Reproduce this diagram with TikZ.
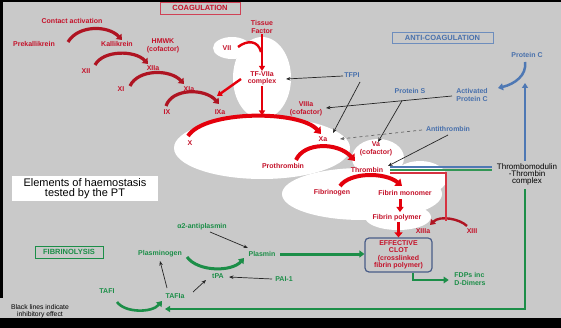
\documentclass[tikz,border=0pt]{standalone}
\usepackage{fontspec}
\setmainfont{Liberation Sans}
\usetikzlibrary{arrows.meta}
\definecolor{bg}{RGB}{201,201,201}
\definecolor{cred}{RGB}{196,18,42}
\definecolor{carc}{RGB}{175,20,34}
\definecolor{cbright}{RGB}{228,0,12}
\definecolor{cblue}{RGB}{72,112,172}
\definecolor{cgreen}{RGB}{28,142,72}
\definecolor{tmblue}{RGB}{78,120,180}
\definecolor{tmgreen}{RGB}{50,150,85}
\definecolor{tmred}{RGB}{214,50,64}
\definecolor{clotframe}{RGB}{72,92,136}
\tikzset{
  lbl/.style={font=\fontsize{7}{7.5}\selectfont\bfseries, inner sep=0.5pt, align=center},
  rl/.style={lbl, text=cred},
  bl/.style={lbl, text=cblue},
  gl/.style={lbl, text=cgreen},
  blk/.style={font=\fontsize{8}{7}\selectfont, inner sep=0.5pt, align=center, text=black},
  cloudfill/.style={fill=white},
  darc/.style={draw=carc, line width=3.2pt, -{Triangle[length=5pt,width=7.5pt]}},
  barc/.style={draw=cbright, line width=4pt, -{Triangle[length=6pt,width=9pt]}},
  tfline/.style={draw=cbright, line width=2.4pt},
  tfarr/.style={tfline, -{Triangle[length=5pt,width=6pt]}},
  inhib/.style={draw=black!85, line width=0.7pt, -{Stealth[length=4.5pt,width=3.5pt]}},
  garc/.style={draw=cgreen, line width=3pt, -{Triangle[length=5pt,width=7pt]}},
  gline/.style={draw=cgreen, line width=2pt, -{Triangle[length=5pt,width=6pt]}},
  titlebox/.style={lbl, font=\fontsize{7.5}{8}\selectfont\bfseries, line width=0.8pt, inner sep=0pt}
}
\begin{document}
\begin{tikzpicture}[x=1pt,y=-1pt]
\useasboundingbox (0,0) rectangle (561,328);
\fill[bg] (0,0) rectangle (561,328);
% black frame strips
\fill[black] (0,0) rectangle (561,2.5);
\fill[black] (0,0) rectangle (3,298);
\fill[black] (0,318) rectangle (561,328);

% white clouds behind the coagulation cascade
\fill[cloudfill] (232,48) ellipse [x radius=19pt, y radius=11pt];
\fill[cloudfill] (262,78) ellipse [x radius=29pt, y radius=41pt];
\fill[cloudfill] (262,148) ellipse [x radius=88pt, y radius=31pt];
\fill[cloudfill] (378,158) ellipse [x radius=26pt, y radius=19pt];
\fill[cloudfill] (362,194) ellipse [x radius=80pt, y radius=26pt];
\fill[cloudfill] (420,178) ellipse [x radius=27pt, y radius=17pt];
\fill[cloudfill] (398,217) ellipse [x radius=33pt, y radius=13pt];

% section titles
\node[titlebox, draw=cred!80, text=cred, minimum width=80pt, minimum height=12pt] (coag) at (200,8) {COAGULATION};
\node[titlebox, draw=cblue!80, text=cblue, minimum width=101pt, minimum height=11pt] (anti) at (442.5,37.5) {ANTI-COAGULATION};
\node[titlebox, draw=cgreen, text=cgreen, minimum width=68pt, minimum height=12pt] (fibbox) at (69,252) {FIBRINOLYSIS};
\node[fill=white, minimum width=146pt, minimum height=25pt, inner sep=0pt, align=center,
      font=\fontsize{11}{10.5}\selectfont] (ptbox) at (85,188.5) {Elements of haemostasis\\tested by the PT};

% coagulation cascade labels
\node[rl] (ca) at (72,21) {Contact activation};
\node[rl] (pk) at (34,44) {Prekallikrein};
\node[rl] (kal) at (117,44) {Kallikrein};
\node[rl] (hmwk) at (163,46) {HMWK\\(cofactor)};
\node[rl] (xii) at (86,71) {XII};
\node[rl] (xiia) at (153,68) {XIIa};
\node[rl] (xi) at (121,89) {XI};
\node[rl] (xia) at (189,89) {XIa};
\node[rl] (ix) at (167,112) {IX};
\node[rl] (ixa) at (220,112) {IXa};
\node[rl] (tf) at (262,27) {Tissue\\Factor};
\node[rl] (vii) at (227,48) {VII};
\node[rl] (tfc) at (262,78.5) {TF-VIIa\\complex};
\node[rl] (viiia) at (306,109) {VIIIa\\(cofactor)};
\node[rl] (x) at (190,143) {X};
\node[rl] (xa) at (323,139) {Xa};
\node[rl] (va) at (376,149) {Va\\(cofactor)};
\node[rl] (pt) at (283,166) {Prothrombin};
\node[rl] (thr) at (367,170) {Thrombin};
\node[rl] (fgn) at (332,193) {Fibrinogen};
\node[rl] (fm) at (405,193) {Fibrin monomer};
\node[rl] (fp) at (397,218) {Fibrin polymer};
\node[rl] (xiiia) at (423,231) {XIIIa};
\node[rl] (xiii) at (472,231) {XIII};
\node[rl, draw=clotframe, line width=1.2pt, rounded corners=4pt, minimum width=67pt,
      minimum height=34pt, inner sep=0pt] (clot) at (398.5,255)
      {EFFECTIVE\\CLOT\\(crosslinked\\fibrin polymer)};
\node[gl, align=left] (fdp) at (470,279) {FDPs inc\\D-Dimers};

% anticoagulant labels
\node[bl] (tfpi) at (352,75) {TFPI};
\node[bl] (ps) at (410,91) {Protein S};
\node[bl] (apc) at (472,95) {Activated\\Protein C};
\node[bl] (pc) at (527,55) {Protein C};
\node[bl] (at) at (448,129) {Antithrombin};
\node[blk] (tm) at (527,174) {Thrombomodulin\\-Thrombin\\complex};

% fibrinolysis labels
\node[gl] (a2ap) at (202,227) {α2-antiplasmin};
\node[gl] (plg) at (160,254) {Plasminogen};
\node[gl] (pl) at (262,254) {Plasmin};
\node[gl] (tpa) at (218,276) {tPA};
\node[gl] (pai) at (284,279) {PAI-1};
\node[gl] (tafia) at (175,296) {TAFIa};
\node[gl] (tafi) at (107,291) {TAFI};
\node[blk, font=\fontsize{6.8}{7}\selectfont] (legend) at (40,311) {Black lines indicate\\inhibitory effect};

% intrinsic pathway arcs
\draw[darc] ([shift={(34,-2)}]pk.center) .. controls +(10,-17) and +(-14,-15) .. ([shift={(5,-4)}]kal.center);
\draw[darc] ([shift={(9,-6)}]xii.center) .. controls +(8,-15) and +(-13,-14) .. ([shift={(-5,-4)}]xiia.center);
\draw[darc] ([shift={(9,-3)}]xi.center) .. controls +(8,-17) and +(-14,-15) .. ([shift={(-5,-5)}]xia.center);
\draw[darc] ([shift={(-1,-6)}]ix.center) .. controls +(6,-18) and +(-14,-16) .. ([shift={(-1,-8)}]ixa.center);

% extrinsic pathway
\draw[tfarr] (tf.south) -- (tfc.north);
\draw[tfline] ([shift={(11,-1)}]vii.center) .. controls +(9,-7) and +(-3,-12) .. ([shift={(-1,25)}]tf.center);
\draw[tfarr] ([shift={(-21,0.5)}]tfc.center) -- ([shift={(-3,-16)}]ixa.center);
\draw[tfarr] (tfc.south) -- ([shift={(0,37)}]tfc.center);

% common pathway
\draw[barc] ([shift={(-2,-7)}]x.center) .. controls +(17,-26) and +(-21,-24) .. ([shift={(-2,-5)}]xa.center);
\draw[barc] ([shift={(13,-6)}]pt.center) .. controls +(8,-18) and +(-17,-19) .. ([shift={(-12,-9)}]thr.center);
\draw[barc] ([shift={(8,-7)}]fgn.center) .. controls +(10,-14) and +(-17,-14) .. ([shift={(-3,-7)}]fm.center);
\draw[draw=cbright, line width=3pt, -{Triangle[length=5pt,width=7pt]}] ([shift={(-5,6)}]fm.center) -- ([shift={(3,-6)}]fp.center);
\draw[draw=cbright, line width=3.5pt, -{Triangle[length=5pt,width=8pt]}] (clot.north |- fp.south) -- (clot.north);
\draw[draw=carc, line width=2.4pt, -{Triangle[length=5pt,width=6.5pt]}] ([shift={(-5,-5)}]xiii.center) .. controls +(-7,-7) and +(10,-10) .. ([shift={(7,-6)}]xiiia.center);

% thrombomodulin-thrombin complex
\draw[tmblue, line width=1.3pt] ([shift={(23,-3)}]thr.center) -- ([shift={(-4,-7)}]tm.west);
\draw[tmgreen, line width=1.3pt] ([shift={(23,0)}]thr.center) -- ([shift={(-4,-4)}]tm.west);
\draw[tmred, line width=1.3pt] ([shift={(23,3)}]thr.center) -| ([shift={(-26,-10)}]xiii.center);
\draw[tmblue, line width=2pt, -{Triangle[length=5pt,width=6pt]}] ([shift={(-2,-13)}]tm.center) -- ([shift={(-2,28)}]pc.center);
\draw[tmblue, line width=2.5pt, -{Triangle[length=5pt,width=7pt]}] ([shift={(-2,7)}]pc.center) .. controls +(2,13) and +(17,-4) .. ([shift={(26,-7)}]apc.center);
\draw[gline] ([shift={(-2,15)}]tm.center) |- ([shift={(-10,13)}]tafia.center);

% inhibitory effects
\draw[inhib] ([shift={(-9,1)}]tfpi.center) -- ([shift={(24,0.5)}]tfc.center);
\draw[inhib] ([shift={(8,7)}]tfpi.center) -- ([shift={(10,-6)}]xa.center);
\draw[inhib] ([shift={(-20,1)}]apc.center) -- coordinate[pos=0.397] (apcb) ([shift={(20,-1)}]viiia.center);
\draw[inhib] (apcb) -- ([shift={(2,-7)}]va.center);
\draw[inhib, draw=black!60, dashed] ([shift={(-26,1)}]at.center) -- ([shift={(17,0)}]xa.center);
\draw[inhib] ([shift={(0,6)}]at.center) -- ([shift={(21,-4)}]thr.center);
\draw[inhib] ([shift={(8,5)}]a2ap.center) -- ([shift={(-14,-6)}]pl.center);
\draw[inhib] ([shift={(-12,0)}]pai.center) -- ([shift={(11,1)}]tpa.center);
\draw[inhib] ([shift={(18,-4)}]tafia.center) -- ([shift={(-12,4)}]tpa.center);
\draw[inhib] ([shift={(-8,-8)}]tafia.center) -- ([shift={(0,7)}]plg.center);

% fibrinolysis arrows
\draw[garc] ([shift={(27,3)}]plg.center) .. controls +(11,15) and +(-12,14) .. ([shift={(-18,4)}]pl.center);
\draw[garc, line width=2.6pt] ([shift={(10,11)}]tafi.center) .. controls +(8,11) and +(-10,12) .. ([shift={(-13,5)}]tafia.center);
\draw[draw=cgreen, line width=3pt, -{Triangle[length=5pt,width=7pt]}, shorten <=4pt] (pl.east) -- (pl.east -| clot.west);
\draw[draw=cgreen, line width=2.5pt, -{Triangle[length=5pt,width=6.5pt]}] ([xshift=14.5pt]clot.south) |- ([shift={(-5,1)}]fdp.west);
\end{tikzpicture}
\end{document}
